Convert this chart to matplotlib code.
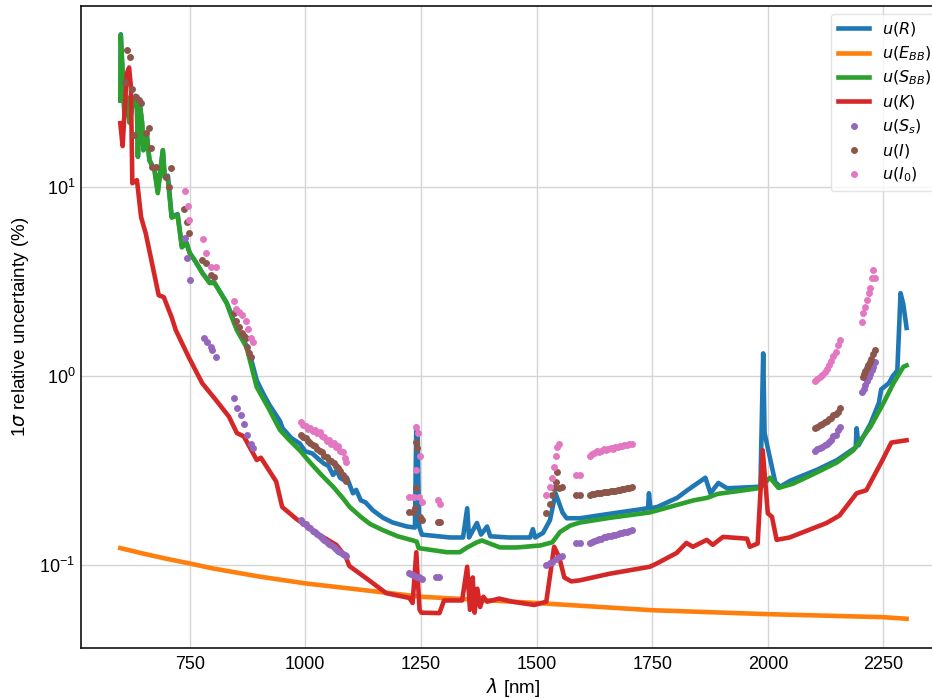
import matplotlib
matplotlib.use('Agg')
import matplotlib.pyplot as plt

# wavelength (nm) and 1-sigma relative uncertainty (%)

wl_R = [600, 601, 605, 609, 614, 620, 626, 633, 636, 638, 642, 647, 650, 657, 663, 674, 681, 692,
        696, 703, 711, 724, 733, 743, 750, 761, 778, 793, 804, 830, 841, 852, 873, 884, 895, 910,
        923, 945, 951, 970, 988, 1000, 1015, 1031, 1040, 1050, 1060, 1068, 1075, 1085, 1090, 1103,
        1110, 1120, 1130, 1146, 1168, 1189, 1220, 1237, 1240, 1243, 1246, 1252, 1313, 1341, 1350,
        1354, 1371, 1380, 1393, 1400, 1440, 1486, 1492, 1497, 1514, 1529, 1541, 1556, 1565, 1594,
        1659, 1741, 1743, 1746, 1761, 1804, 1826, 1865, 1876, 1893, 1912, 1984, 1990, 1993, 2001,
        2016, 2027, 2049, 2107, 2150, 2190, 2192, 2196, 2222, 2240, 2245, 2262, 2270, 2280, 2287,
        2293, 2300]
u_R = [28.8, 64.5, 40, 24, 30, 22, 27, 30.5, 27, 14.5, 28, 22, 15.7, 19.3, 13.9, 12.3, 9.5, 15.7,
       11.3, 11.5, 7.0, 7.2, 4.9, 5.1, 4.5, 4.1, 3.5, 3.15, 3.11, 2.45, 2.1, 1.78, 1.45, 1.2, 0.95, 0.8,
       0.7, 0.58, 0.53, 0.47, 0.44, 0.40, 0.39, 0.36, 0.345, 0.335, 0.30, 0.318, 0.29, 0.28, 0.29, 0.24,
       0.25, 0.22, 0.215, 0.195, 0.178, 0.168, 0.160, 0.158, 0.54, 0.50, 0.16, 0.145, 0.14, 0.14, 0.20,
       0.14, 0.167, 0.145, 0.16, 0.142, 0.14, 0.14, 0.155, 0.14, 0.148, 0.173, 0.24, 0.19, 0.177,
       0.177, 0.187, 0.20, 0.24, 0.20, 0.203, 0.227, 0.249, 0.29, 0.24, 0.272, 0.255, 0.26, 1.32, 0.5,
       0.405, 0.275, 0.26, 0.28, 0.32, 0.36, 0.42, 0.53, 0.43, 0.56, 0.72, 0.85, 0.92, 1.0, 1.07,
       2.75, 2.4, 1.8]

wl_EBB = [600, 650, 700, 750, 800, 900, 1000, 1100, 1250, 1500, 1750, 2000, 2250, 2300]
u_EBB = [0.123, 0.115, 0.108, 0.102, 0.096, 0.087, 0.080, 0.075, 0.068, 0.063, 0.0577, 0.055, 0.053, 0.052]

wl_SBB = [600, 601, 605, 609, 614, 620, 626, 633, 636, 638, 642, 647, 650, 657, 663, 674, 681, 692,
          696, 703, 711, 724, 733, 743, 750, 761, 778, 793, 804, 830, 841, 852, 873, 895, 920, 945,
          965, 988, 1010, 1035, 1060, 1080, 1096, 1120, 1140, 1168, 1200, 1233, 1241, 1245, 1306,
          1334, 1350, 1371, 1382, 1399, 1421, 1458, 1508, 1534, 1551, 1573, 1594, 1659, 1745, 1839,
          1869, 1891, 1984, 1995, 2005, 2023, 2055, 2107, 2150, 2185, 2222, 2250, 2272, 2293, 2300]
u_SBB = [28.8, 63.7, 40, 24, 30, 22, 27, 30, 27, 14.5, 27.5, 22, 15.7, 19.3, 13.9, 12.3, 9.3, 15.7,
         11.3, 10.9, 6.9, 7.1, 4.8, 5.05, 4.47, 4.1, 3.5, 3.11, 3.11, 2.43, 2.05, 1.75, 1.42, 0.875, 0.68,
         0.52, 0.46, 0.405, 0.35, 0.30, 0.26, 0.228, 0.203, 0.18, 0.165, 0.153, 0.142, 0.135, 0.133,
         0.123, 0.117, 0.117, 0.124, 0.132, 0.135, 0.130, 0.124, 0.124, 0.127, 0.132, 0.150, 0.162,
         0.168, 0.178, 0.19, 0.22, 0.227, 0.238, 0.256, 0.275, 0.29, 0.256, 0.27, 0.31, 0.35, 0.405,
         0.54, 0.72, 0.92, 1.12, 1.14]

wl_K = [600, 605, 614, 619, 623, 626, 636, 645, 655, 673, 683, 694, 711, 720, 748, 777, 807, 835, 852,
        867, 895, 904, 937, 950, 980, 1023, 1067, 1088, 1095, 1138, 1175, 1225, 1232, 1240, 1247, 1251,
        1290, 1300, 1339, 1350, 1356, 1362, 1366, 1372, 1378, 1385, 1393, 1419, 1448, 1495, 1521, 1538,
        1549, 1560, 1575, 1593, 1658, 1745, 1760, 1803, 1824, 1838, 1868, 1881, 1903, 1955, 1961, 1978,
        1989, 2000, 2009, 2019, 2047, 2127, 2155, 2192, 2213, 2248, 2267, 2300]
u_K = [21.8, 16.5, 40, 43, 33.8, 10.5, 10.9, 6.93, 5.7, 3.51, 2.68, 2.62, 2.05, 1.75, 1.26, 0.918, 0.746,
       0.61, 0.50, 0.48, 0.36, 0.37, 0.277, 0.203, 0.176, 0.148, 0.128, 0.11, 0.099, 0.083, 0.071, 0.067,
       0.063, 0.117, 0.058, 0.056, 0.0557, 0.065, 0.065, 0.098, 0.058, 0.086, 0.056, 0.075, 0.06, 0.068,
       0.064, 0.0665, 0.064, 0.0615, 0.064, 0.125, 0.11, 0.086, 0.082, 0.083, 0.09, 0.098, 0.102, 0.116,
       0.131, 0.125, 0.136, 0.128, 0.141, 0.138, 0.125, 0.13, 0.405, 0.188, 0.18, 0.136, 0.14, 0.167,
       0.183, 0.24, 0.249, 0.36, 0.445, 0.458]

wl_Ss = [740, 744, 751, 781, 788, 796, 799, 807, 846, 852, 861, 868, 874, 883, 887,
         991, 996, 1001, 1006, 1011, 1016, 1021, 1026, 1031, 1036, 1041, 1046, 1051, 1056, 1061,
         1066, 1071, 1076, 1081, 1085, 1088,
         1225, 1229, 1233, 1237, 1241, 1245, 1249, 1253, 1283, 1288,
         1521, 1528, 1534, 1543, 1549, 1554, 1586, 1593,
         1615, 1620, 1625, 1630, 1635, 1640, 1645, 1650, 1655, 1660, 1665, 1670, 1675, 1680, 1685,
         1690, 1695, 1700, 1706,
         2101, 2107, 2112, 2118, 2123, 2127, 2132, 2137, 2142, 2147, 2151, 2155,
         2203, 2207, 2210, 2214, 2218, 2221, 2225, 2228, 2231]
u_Ss = [5.37, 4.2, 3.22, 1.6, 1.51, 1.42, 1.37, 1.26, 0.77, 0.68, 0.62, 0.56, 0.49, 0.44, 0.415,
        0.173, 0.168, 0.165, 0.160, 0.157, 0.152, 0.149, 0.146, 0.142, 0.139, 0.135, 0.132, 0.129,
        0.127, 0.124, 0.121, 0.119, 0.117, 0.115, 0.113, 0.112,
        0.091, 0.090, 0.089, 0.088, 0.087, 0.086, 0.085, 0.084, 0.087, 0.087,
        0.100, 0.102, 0.104, 0.108, 0.110, 0.112, 0.131, 0.131,
        0.131, 0.133, 0.134, 0.136, 0.137, 0.138, 0.140, 0.141, 0.142, 0.143, 0.144, 0.145, 0.146,
        0.147, 0.148, 0.149, 0.150, 0.152, 0.153,
        0.40, 0.41, 0.415, 0.42, 0.43, 0.44, 0.45, 0.46, 0.48, 0.49, 0.52, 0.54,
        0.82, 0.86, 0.90, 0.94, 0.99, 1.03, 1.08, 1.12, 1.19]

wl_I = [610, 614, 621, 625, 630, 634, 640, 645, 655, 662, 667, 669, 677, 699, 705, 710, 738, 744, 748,
        777, 785, 796, 803, 846, 850, 857, 863, 868, 872, 874, 879, 883,
        991, 996, 1001, 1006, 1011, 1016, 1021, 1026, 1031, 1036, 1041, 1046, 1051, 1056, 1061,
        1066, 1071, 1076, 1081, 1085, 1088,
        1225, 1232, 1238, 1240, 1240, 1242, 1247, 1250, 1253, 1286, 1291,
        1521, 1528, 1534, 1538, 1543, 1545, 1549, 1554, 1586, 1593,
        1615, 1620, 1625, 1630, 1635, 1640, 1645, 1650, 1655, 1660, 1665, 1670, 1675, 1680, 1685,
        1690, 1695, 1700, 1706,
        2101, 2107, 2112, 2118, 2123, 2127, 2132, 2137, 2142, 2147, 2151, 2155,
        2205, 2208, 2211, 2214, 2217, 2220, 2223, 2227, 2231]
u_I = [35.9, 53.1, 48.7, 33.0, 18.8, 29.9, 29.0, 27.8, 19.3, 20.5, 16.1, 12.8, 12.8, 11.3, 10.0, 12.6,
       7.65, 6.53, 5.7, 4.1, 3.97, 3.42, 3.34, 2.16, 1.97, 1.82, 1.69, 1.64, 1.60, 1.42, 1.33, 1.26,
       0.49, 0.475, 0.47, 0.455, 0.445, 0.43, 0.425, 0.41, 0.40, 0.395, 0.38, 0.375, 0.36, 0.355,
       0.345, 0.335, 0.325, 0.315, 0.30, 0.29, 0.28,
       0.19, 0.19, 0.20, 0.255, 0.45, 0.415, 0.179, 0.175, 0.173, 0.17, 0.17,
       0.188, 0.21, 0.235, 0.255, 0.275, 0.31, 0.255, 0.26, 0.235, 0.235,
       0.235, 0.237, 0.238, 0.240, 0.241, 0.242, 0.243, 0.244, 0.245, 0.246, 0.247, 0.248, 0.250,
       0.251, 0.253, 0.254, 0.255, 0.257, 0.259,
       0.53, 0.54, 0.55, 0.56, 0.57, 0.58, 0.59, 0.60, 0.62, 0.63, 0.65, 0.68,
       0.99, 1.03, 1.07, 1.10, 1.15, 1.19, 1.24, 1.31, 1.37]

wl_I0 = [740, 746, 748, 779, 785, 796, 807, 846, 850, 857, 863, 872, 876, 883, 887,
         991, 996, 1001, 1006, 1011, 1016, 1021, 1026, 1031, 1036, 1041, 1046, 1051, 1056, 1061,
         1066, 1071, 1076, 1081, 1085, 1088,
         1225, 1232, 1236, 1240, 1240, 1243, 1246, 1248, 1253, 1286, 1291,
         1521, 1528, 1534, 1538, 1543, 1545, 1549, 1586, 1593,
         1615, 1620, 1625, 1630, 1635, 1640, 1645, 1650, 1655, 1660, 1665, 1670, 1675, 1680, 1685,
         1690, 1695, 1700, 1706,
         2101, 2107, 2112, 2118, 2123, 2127, 2132, 2137, 2142, 2147, 2151, 2155,
         2203, 2205, 2210, 2214, 2218, 2220, 2225, 2227, 2231]
u_I0 = [9.5, 8.0, 6.7, 5.3, 4.48, 3.8, 3.77, 2.5, 2.28, 2.18, 2.1, 1.95, 1.78, 1.6, 1.51,
        0.57, 0.55, 0.545, 0.525, 0.53, 0.51, 0.52, 0.50, 0.505, 0.48, 0.475, 0.455, 0.46, 0.44,
        0.445, 0.42, 0.425, 0.40, 0.395, 0.37, 0.35,
        0.23, 0.23, 0.23, 0.32, 0.54, 0.50, 0.23, 0.38, 0.215, 0.22, 0.21,
        0.235, 0.258, 0.29, 0.33, 0.38, 0.42, 0.44, 0.30, 0.30,
        0.38, 0.385, 0.39, 0.40, 0.395, 0.40, 0.41, 0.405, 0.41, 0.415, 0.41, 0.42, 0.42, 0.425,
        0.425, 0.43, 0.43, 0.435, 0.44,
        0.94, 0.97, 0.99, 1.02, 1.05, 1.09, 1.14, 1.21, 1.28, 1.34, 1.46, 1.55,
        1.94, 2.16, 2.32, 2.52, 2.75, 2.92, 3.3, 3.65, 3.3]

matplotlib.rcParams['font.family'] = ['Liberation Sans', 'DejaVu Sans']
matplotlib.rcParams['xtick.major.size'] = 0
matplotlib.rcParams['ytick.major.size'] = 0
matplotlib.rcParams['xtick.minor.size'] = 0
matplotlib.rcParams['ytick.minor.size'] = 0

fig = plt.figure(figsize=(9.32, 6.98), dpi=100)
ax = fig.add_axes([0.0869, 0.0716, 0.928, 0.9198])

lw = 3.3
ax.plot(wl_R, u_R, color='C0', lw=lw, label=r'$u(R)$')
ax.plot(wl_EBB, u_EBB, color='C1', lw=lw, label=r'$u(E_{BB})$')
ax.plot(wl_SBB, u_SBB, color='C2', lw=lw, label=r'$u(S_{BB})$')
ax.plot(wl_K, u_K, color='C3', lw=lw, label=r'$u(K)$')
ms = 5
ax.plot(wl_Ss, u_Ss, 'o', color='C4', ms=ms, mew=0, label=r'$u(S_s)$')
ax.plot(wl_I, u_I, 'o', color='C5', ms=ms, mew=0, label=r'$u(I)$')
ax.plot(wl_I0, u_I0, 'o', color='C6', ms=ms, mew=0, label=r'$u(I_0)$')

ax.set_yscale('log')
ax.set_xlim(515, 2385)
ax.set_ylim(0.0364, 91)
ax.grid(True, which='major', color='#d5d5d5', lw=1)
ax.set_axisbelow(True)
ax.minorticks_off()
for s in ax.spines.values():
    s.set_color('#111111')
    s.set_linewidth(1.2)
ax.spines['right'].set_visible(False)

ax.tick_params(axis='x', labelsize=13, pad=6)
ax.tick_params(axis='y', labelsize=13, pad=4)
ax.set_xlabel(r'$\lambda$ [nm]', fontsize=13.5, labelpad=2)
ax.set_ylabel(r'1$\sigma$ relative uncertainty (%)', fontsize=13.5, labelpad=6)

ax.legend(loc='upper right', numpoints=1, fontsize=11.5, frameon=True, framealpha=0.8,
          edgecolor='#dddddd', fancybox=True, labelspacing=0.38)

fig.savefig('out.png', dpi=100)
